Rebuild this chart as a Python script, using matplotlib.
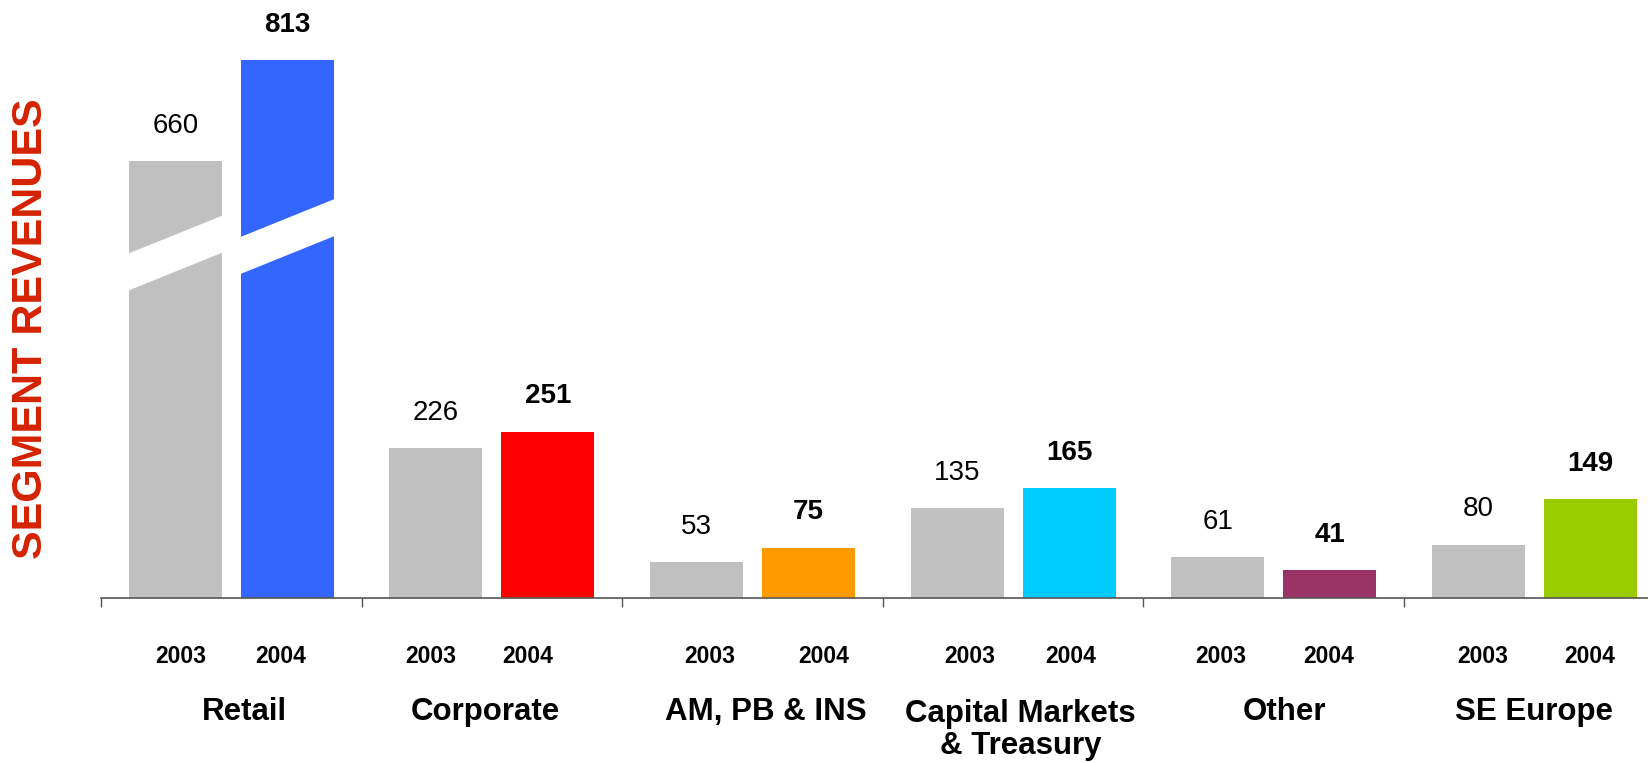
import matplotlib
matplotlib.use("Agg")
import matplotlib.pyplot as plt
from matplotlib import font_manager
from matplotlib.patches import Polygon
import numpy as np

segments = ["Retail", "Corporate", "AM, PB & INS", "Capital Markets\n& Treasury", "Other", "SE Europe"]
years = ["2003", "2004"]
rev_2003 = [660, 226, 53, 135, 61, 80]
rev_2004 = [813, 251, 75, 165, 41, 149]
colors_2004 = ["#3366FF", "#FF0000", "#FF9900", "#00CCFF", "#993366", "#99CC00"]
color_2003 = "#C0C0C0"


def pick_font(names):
    for n in names:
        try:
            font_manager.findfont(n, fallback_to_default=False)
            return n
        except Exception:
            pass
    return "DejaVu Sans"


main_font = pick_font(["Liberation Sans", "Arial", "DejaVu Sans"])
narrow_font = pick_font(["Liberation Sans Narrow", "Arial Narrow", "DejaVu Sans Condensed", main_font])
plt.rcParams["font.family"] = main_font

W, H = 1648, 763
fig = plt.figure(figsize=(W / 100, H / 100), dpi=100)

# px layout
base_px = 597.5
px_per_unit = 0.661
group_px = 260.6
ax = fig.add_axes([101 / W, (H - base_px) / H, 1 - 101 / W, base_px / H])

x = np.arange(len(segments))
off = 56 / group_px
bw = 93 / group_px
ax.bar(x - off, rev_2003, width=bw, color=color_2003, zorder=2)
ax.bar(x + off, rev_2004, width=bw, color=colors_2004, zorder=2)

ax.set_xlim(-0.5, -0.5 + (W - 101) / group_px)
ax.set_ylim(0, base_px / px_per_unit)

# axis break on the Retail bars (purely decorative)
for bx, mid in [(x[0] - off, 521), (x[0] + off, 546)]:
    half_slope = 30
    gap = 28
    xl, xr = bx - bw / 2 - 0.01, bx + bw / 2 + 0.01
    poly = Polygon([(xl, mid - half_slope - gap), (xr, mid + half_slope - gap),
                    (xr, mid + half_slope + gap), (xl, mid - half_slope + gap)],
                   closed=True, facecolor="white", edgecolor="none", zorder=3)
    ax.add_patch(poly)

# value labels
pt = 72 / 100
val_size = 22 if narrow_font != main_font else 20
for i in range(len(segments)):
    ax.annotate(str(rev_2003[i]), (x[i] - off, rev_2003[i]), xytext=(0, 28.5 * pt),
                textcoords="offset points", ha="center", va="baseline",
                fontsize=val_size, family=narrow_font, color="black")
    ax.annotate(str(rev_2004[i]), (x[i] + off, rev_2004[i]), xytext=(0, 28.5 * pt),
                textcoords="offset points", ha="center", va="baseline",
                fontsize=val_size, family=narrow_font, fontweight="bold", color="black")

# year and segment labels below the axis
dx_2003 = [5.5, -5, 13.5, 12.5, 3.5, 4.5]
dx_2004 = [-7, -20, 15.5, 1.5, -1.5, -0.5]
dx_seg = [12.75, -7, 13, 7.5, 10.5, 0]
line_px = 34
for i in range(len(segments)):
    ax.annotate(years[0], (x[i] - off, 0), xytext=(dx_2003[i] * pt, -(663 - base_px) * pt),
                textcoords="offset points", ha="center", va="baseline",
                fontsize=16.5, fontweight="bold")
    ax.annotate(years[1], (x[i] + off, 0), xytext=(dx_2004[i] * pt, -(663 - base_px) * pt),
                textcoords="offset points", ha="center", va="baseline",
                fontsize=16.5, fontweight="bold")
    extra = segments[i].count("\n") * line_px
    ax.annotate(segments[i], (x[i], 0), xytext=(dx_seg[i] * pt, -(720 + extra - base_px) * pt),
                textcoords="offset points", ha="center", va="baseline",
                fontsize=22.5, fontweight="bold", linespacing=1.08, annotation_clip=False)

for s in ["top", "right", "left"]:
    ax.spines[s].set_visible(False)
ax.spines["bottom"].set_color("#555555")
ax.spines["bottom"].set_linewidth(1.2)
ax.spines["bottom"].set_zorder(4)
ax.set_xticks(x - 0.5)
ax.set_xticklabels([])
ax.tick_params(axis="x", length=6.5, width=1.0, color="#555555", direction="out")
ax.set_yticks([])

fig.text(31 / W, 1 - 329 / H, "SEGMENT REVENUES", rotation=90, ha="center", va="center",
         fontsize=31, fontweight="bold", color="#D42200")

fig.savefig("out.png", dpi=100)
